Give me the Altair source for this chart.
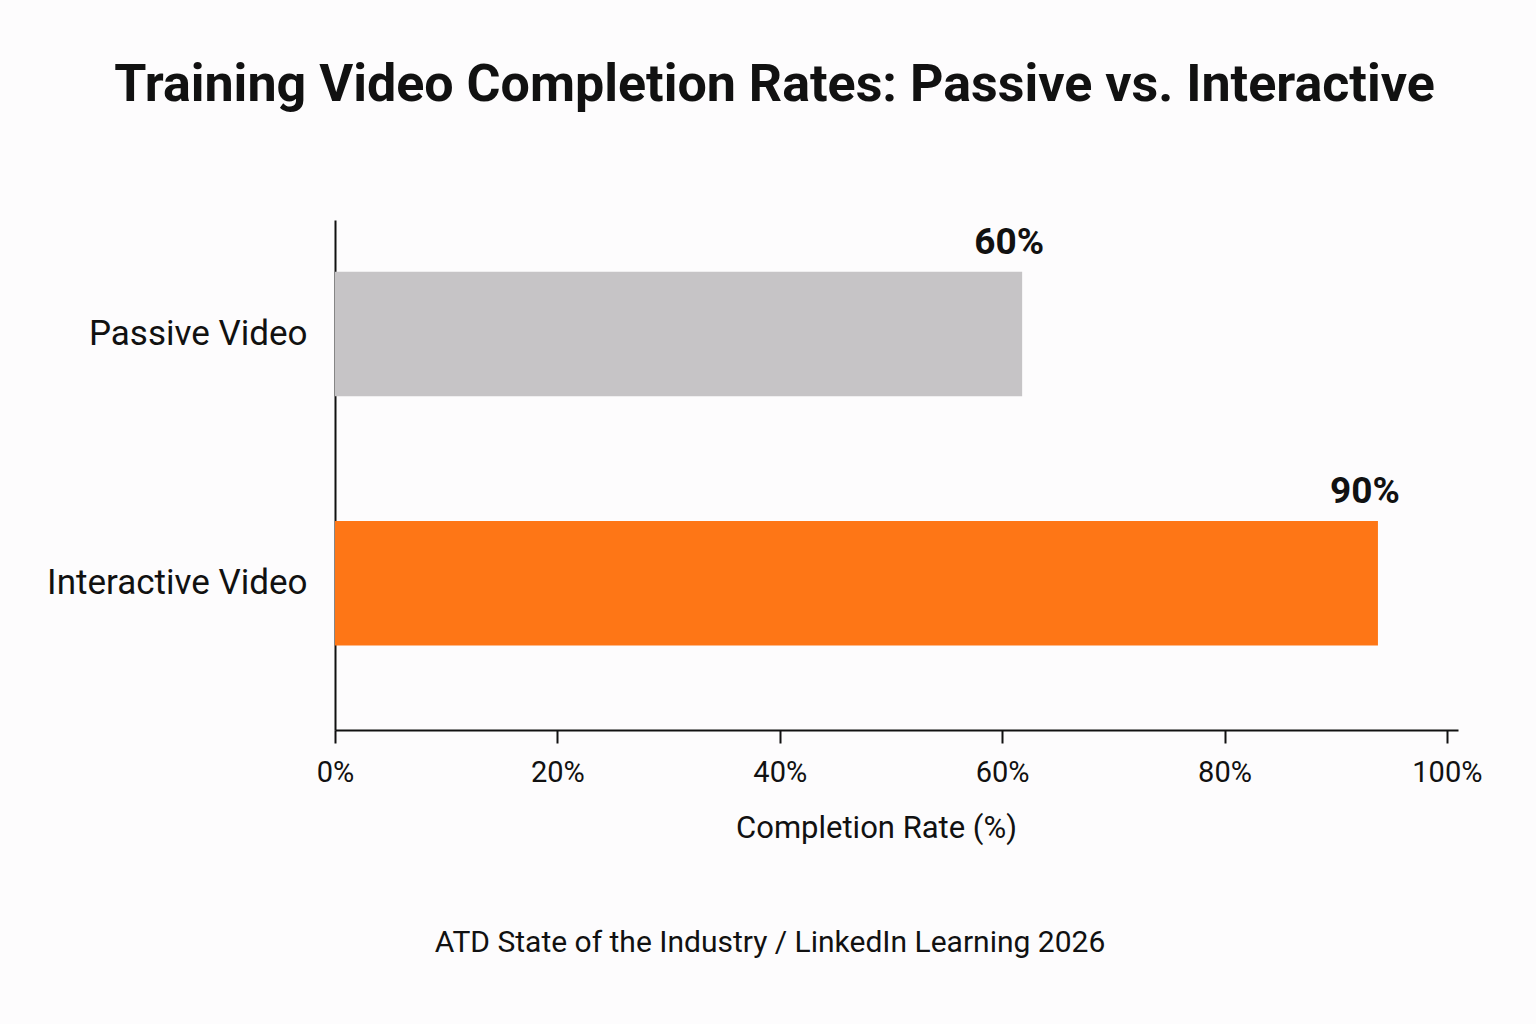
import altair as alt
import pandas as pd

categories = ["Passive Video", "Interactive Video"]
values = [61.8, 93.8]
labels = ["60%", "90%"]
colors = ["#c6c4c6", "#fe7616"]

df = pd.DataFrame({"cat": categories, "val": values, "label": labels, "color": colors})

FONT = "Roboto"

y_enc = alt.Y(
    "cat:N",
    sort=categories,
    title=None,
    scale=alt.Scale(paddingInner=0.5, paddingOuter=0.274, align=0.38),
    axis=alt.Axis(
        domain=True, domainColor="#111111", domainWidth=2,
        ticks=False, labelFontSize=35, labelFont=FONT, labelColor="#111111",
        labelPadding=28, labelLimit=500, grid=False,
    ),
)

x_enc = alt.X(
    "val:Q",
    scale=alt.Scale(domain=[0, 101], nice=False),
    title="Completion Rate (%)",
    axis=alt.Axis(
        values=[0, 20, 40, 60, 80, 100],
        labelExpr="datum.value + '%'",
        labelFlush=False,
        domainColor="#111111", domainWidth=2,
        tickColor="#111111", tickWidth=2, tickSize=13,
        labelFontSize=29, labelFont=FONT, labelColor="#111111", labelPadding=15,
        titleFontSize=31, titleFont=FONT, titleFontWeight="normal", titleColor="#111111",
        titleY=98, titleX=541, titleBaseline="middle",
        grid=False,
    ),
)

bars = alt.Chart(df).mark_bar().encode(
    x=x_enc,
    y=y_enc,
    color=alt.Color("color:N", scale=None),
)

text = alt.Chart(df).mark_text(
    font=FONT, fontSize=37, fontWeight="bold", color="#111111",
    align="center", baseline="middle", dy=-91, dx=-13,
).encode(
    x=alt.X("val:Q"),
    y=alt.Y("cat:N", sort=categories),
    text="label:N",
)

source = alt.Chart(pd.DataFrame({"t": ["ATD State of the Industry / LinkedIn Learning 2026"]})).mark_text(
    font=FONT, fontSize=30, color="#111111", align="center", baseline="middle",
).encode(
    x=alt.value(770 - 335),
    y=alt.value(943 - 220),
    text="t:N",
)

chart = alt.layer(bars, text, source).properties(
    width=1123,
    height=510,
    autosize=alt.AutoSizeParams(type="none"),
    padding={"left": 335, "top": 220, "right": 78, "bottom": 294},
    background="#fdfcfd",
    title=alt.Title(
        "Training Video Completion Rates: Passive vs. Interactive",
        font=FONT, fontSize=52, fontWeight="bold", color="#111111",
        anchor="middle", dx=-122, offset=108,
    ),
).configure_view(stroke=None)

chart.save("out.html", embed_options={"renderer": "svg", "actions": False})
